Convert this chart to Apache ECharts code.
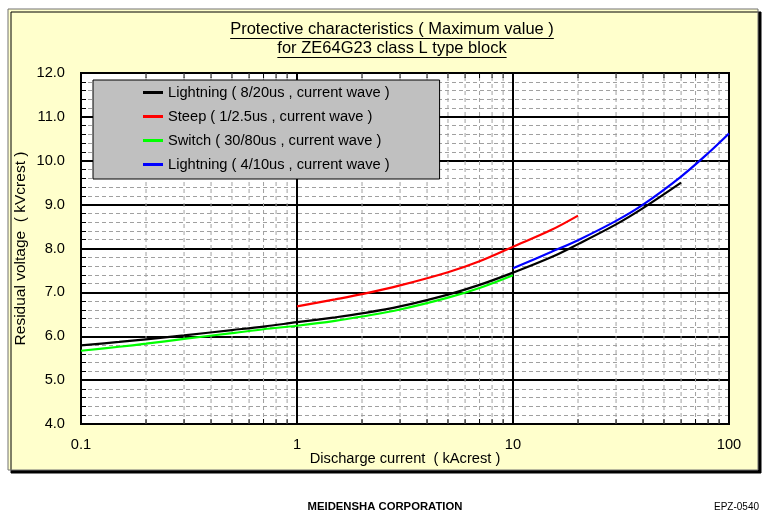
<!DOCTYPE html>
<html>
<head>
<meta charset="utf-8">
<script src="https://cdn.jsdelivr.net/npm/echarts@6/dist/echarts.min.js"></script>
<style>
  html, body { margin: 0; padding: 0; background: #ffffff; }
  #chart { width: 762px; height: 513px; }
</style>
</head>
<body>
<div id="chart"></div>
<script>
// Title, footer and axis texts
const titleLines = ['Protective characteristics ( Maximum value )', 'for ZE64G23 class L type block'];
const xAxisName = 'Discharge current  ( kAcrest )';
const yAxisName = 'Residual voltage  ( kVcrest )';
const footerCenter = 'MEIDENSHA CORPORATION';
const footerRight = 'EPZ-0540';

// Series names (legend order)
const seriesNames = [
  'Lightning ( 8/20us , current wave )',
  'Steep ( 1/2.5us , current wave )',
  'Switch ( 30/80us , current wave )',
  'Lightning ( 4/10us , current wave )'
];

// Curves: [discharge current kA, residual voltage kV]
const lightning820 = [[0.1, 5.79], [0.15, 5.87], [0.2, 5.93], [0.3, 6.02], [0.5, 6.14], [0.7, 6.22], [1, 6.32], [1.5, 6.43], [2, 6.52], [3, 6.68], [5, 6.95], [7, 7.17], [10, 7.45], [15, 7.80], [20, 8.10], [30, 8.55], [40, 8.92], [60, 9.50]];
const steep125 = [[1, 6.68], [1.5, 6.84], [2, 6.96], [3, 7.16], [5, 7.46], [7, 7.71], [10, 8.04], [15, 8.42], [20, 8.75]];
const switch3080 = [[0.1, 5.67], [0.15, 5.76], [0.2, 5.83], [0.3, 5.94], [0.5, 6.07], [0.7, 6.16], [1, 6.24], [1.5, 6.35], [2, 6.45], [3, 6.61], [5, 6.88], [7, 7.10], [10, 7.39]];
const lightning410 = [[10, 7.55], [15, 7.92], [20, 8.19], [30, 8.63], [40, 9.00], [60, 9.64], [80, 10.17], [100, 10.62]];

// Axis ranges and the minor (2..9) positions of the log scale
const xMin = 0.1, xMax = 100;
const yMin = 4, yMax = 12, yStep = 1;
const minorX = [0.2, 0.3, 0.4, 0.5, 0.6, 0.7, 0.8, 0.9, 2, 3, 4, 5, 6, 7, 8, 9, 20, 30, 40, 50, 60, 70, 80, 90];

const FONT = '"Liberation Sans", Arial, sans-serif';
const FS = 14.67;
const chart = echarts.init(document.getElementById('chart'));

// Width of each title line so it can be underlined
const TITLE_FS = 16.5;
const measureCtx = document.createElement('canvas').getContext('2d');
measureCtx.font = TITLE_FS + 'px ' + FONT;
const titleCenterX = 392;
const titleY = [29, 48];
const titleGraphics = [];
titleLines.forEach(function (t, i) {
  const w = measureCtx.measureText(t).width;
  titleGraphics.push({
    type: 'text', x: titleCenterX, y: titleY[i], z: 10,
    style: { text: t, font: TITLE_FS + 'px ' + FONT, fill: '#000', textAlign: 'center', textVerticalAlign: 'middle' }
  });
  titleGraphics.push({
    type: 'line', z: 10,
    shape: { x1: titleCenterX - w / 2, y1: titleY[i] + 9.5, x2: titleCenterX + w / 2, y2: titleY[i] + 9.5 },
    style: { stroke: '#000', lineWidth: 1 }
  });
});

function curve(name, data, color) {
  return {
    name: name, type: 'line', data: data, smooth: 0.35, symbol: 'none',
    lineStyle: { color: color, width: 2.2 }, itemStyle: { color: color },
    z: 5
  };
}

const option = {
  animation: false,
  backgroundColor: '#ffffff',
  textStyle: { fontFamily: FONT },
  graphic: [
    {
      type: 'rect', z: -100,
      shape: { x: 8, y: 9, width: 750, height: 461 },
      style: { fill: '#FFFFCC', stroke: '#707070', lineWidth: 1, shadowColor: '#000', shadowOffsetX: 3, shadowOffsetY: 3, shadowBlur: 0 }
    }
  ].concat(titleGraphics).concat([
    {
      type: 'text', x: 385, y: 507,
      style: { text: footerCenter, font: 'bold 11.3px ' + FONT, fill: '#000', textAlign: 'center', textVerticalAlign: 'middle' }
    },
    {
      type: 'text', x: 759, y: 507,
      style: { text: footerRight, font: '10px ' + FONT, fill: '#000', textAlign: 'right', textVerticalAlign: 'middle' }
    }
  ]),
  grid: {
    left: 81, top: 73, width: 648, height: 351,
    show: true, backgroundColor: '#ffffff', borderColor: '#000', borderWidth: 2,
    containLabel: false
  },
  legend: {
    orient: 'vertical', left: 93, top: 80,
    data: seriesNames,
    icon: 'rect',
    backgroundColor: '#C0C0C0', borderColor: '#000', borderWidth: 1,
    padding: [5, 50, 7, 50],
    itemGap: 9, itemWidth: 20, itemHeight: 3,
    textStyle: { fontSize: FS, lineHeight: 14, color: '#000', fontFamily: FONT },
    selectedMode: false
  },
  xAxis: {
    type: 'log', logBase: 10, min: xMin, max: xMax,
    name: xAxisName, nameLocation: 'middle', nameGap: 27, nameMoveOverlap: false,
    nameTextStyle: { fontSize: FS, color: '#000' },
    axisLine: { show: true, lineStyle: { color: '#000', width: 2 } },
    axisTick: { show: false },
    axisLabel: { fontSize: FS, color: '#000', margin: 13, formatter: function (v) { return String(v); } },
    splitLine: { show: true, lineStyle: { color: '#000', width: 2 } }
  },
  yAxis: {
    type: 'value', min: yMin, max: yMax, interval: yStep,
    name: yAxisName, nameLocation: 'middle', nameGap: 52, nameMoveOverlap: false,
    nameTextStyle: { fontSize: 15.5, color: '#000' },
    axisLine: { show: true, lineStyle: { color: '#000', width: 2 } },
    axisTick: { show: false },
    minorTick: { show: true, splitNumber: 5, length: -5, lineStyle: { color: '#000', width: 1 } },
    axisLabel: { fontSize: FS, color: '#000', margin: 16, formatter: function (v) { return v.toFixed(1); } },
    splitLine: { show: true, lineStyle: { color: '#000', width: 2 } },
    minorSplitLine: { show: true, lineStyle: { color: '#a0a0a0', width: 1, type: [4, 3] } }
  },
  series: [
    {
      // dashed minor grid lines of the log axis, with short frame ticks
      type: 'custom', silent: true, z: 1,
      data: minorX.map(function (v) { return [v, yMin]; }),
      encode: { x: 0, y: 1 },
      renderItem: function (params, api) {
        const x = api.value(0);
        const bottom = api.coord([x, yMin]);
        const top = api.coord([x, yMax]);
        return {
          type: 'group',
          children: [
            { type: 'line', shape: { x1: bottom[0], y1: bottom[1], x2: top[0], y2: top[1] },
              style: { stroke: '#a0a0a0', lineWidth: 1, lineDash: [4, 3] } },
            { type: 'line', shape: { x1: bottom[0], y1: bottom[1], x2: bottom[0], y2: bottom[1] - 5 },
              style: { stroke: '#000', lineWidth: 1 } },
            { type: 'line', shape: { x1: top[0], y1: top[1], x2: top[0], y2: top[1] + 5 },
              style: { stroke: '#000', lineWidth: 1 } }
          ]
        };
      }
    },
    curve(seriesNames[2], switch3080, '#00FF00'),
    curve(seriesNames[1], steep125, '#FF0000'),
    curve(seriesNames[0], lightning820, '#000000'),
    curve(seriesNames[3], lightning410, '#0000FF')
  ]
};

chart.setOption(option);
</script>
</body>
</html>
